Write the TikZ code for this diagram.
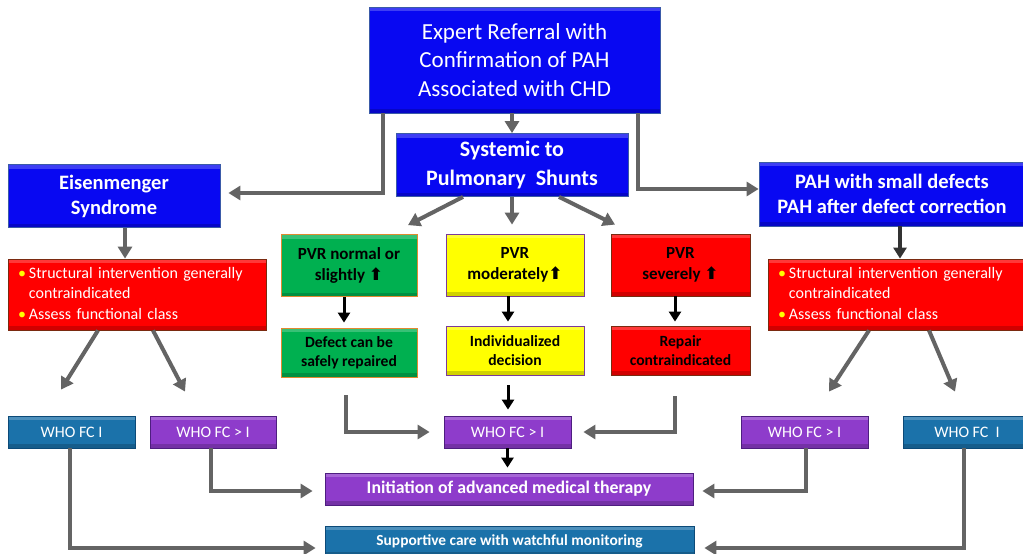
\documentclass[tikz,border=0pt]{standalone}
\usepackage{fontspec}
\setmainfont{Carlito}
\newfontfamily\symfont{DejaVu Sans}
\usetikzlibrary{arrows.meta,calc}
\definecolor{bxblue}{HTML}{0808F2}
\definecolor{bxblueD}{HTML}{3A5AA8}
\definecolor{bxgreen}{HTML}{00B050}
\definecolor{bxgreenD}{HTML}{E08A30}
\definecolor{bxyellow}{HTML}{FFFF00}
\definecolor{bxyellowD}{HTML}{7A3A9A}
\definecolor{bxred}{HTML}{FF0000}
\definecolor{bxredD}{HTML}{7A2A10}
\definecolor{bxpurple}{HTML}{8E3CCB}
\definecolor{bxpurpleD}{HTML}{4E1E80}
\definecolor{bxteal}{HTML}{1B72AA}
\definecolor{bxtealD}{HTML}{0C4A78}
\definecolor{arrgray}{HTML}{646464}
\definecolor{bullety}{HTML}{FFFF00}
\newcommand{\uparr}{{\symfont\fontsize{17}{17}\selectfont ⬆}}
\begin{document}
\begin{tikzpicture}[x=1pt,y=-1pt,
  box/.style={draw, line width=0.8pt, inner sep=0pt, align=center, anchor=center,
    path picture={
      \fill[white,opacity=0.22] (path picture bounding box.north west) rectangle ([yshift=-4pt]path picture bounding box.north east);
      \fill[black,opacity=0.18] (path picture bounding box.south west) rectangle ([yshift=4pt]path picture bounding box.south east);
    }},
  bluebox/.style={box, fill=bxblue, draw=bxblueD, text=white},
  pvrfont/.style={font=\fontsize{17}{21}\selectfont\bfseries},
  lowfont/.style={font=\fontsize{15.6}{19}\selectfont\bfseries},
  greenbox/.style={box, fill=bxgreen, draw=bxgreenD, text=black},
  yellowbox/.style={box, fill=bxyellow, draw=bxyellowD, text=black},
  redbox/.style={box, fill=bxred, draw=bxredD, text=black},
  bulletbox/.style={box, fill=bxred, draw=bxredD, text=white, align=left, font=\fontsize{16}{20.5}\selectfont},
  purplebox/.style={box, fill=bxpurple, draw=bxpurpleD, text=white},
  tealbox/.style={box, fill=bxteal, draw=bxtealD, text=white},
  whofont/.style={font=\fontsize{16}{18}\selectfont},
  garrow/.style={draw=arrgray, line width=4pt, -{Triangle[length=12pt,width=14pt]}},
  darrow/.style={draw=black!80, line width=3.5pt, -{Triangle[length=11pt,width=13pt]}},
  barrow/.style={draw=black, line width=3pt, -{Triangle[length=10pt,width=12pt]}}
]
\fill[white] (0,0) rectangle (1023,554);
\useasboundingbox (0,0) rectangle (1023,554);

% top row
\node[bluebox, minimum width=291pt, minimum height=106pt, font=\fontsize{23}{28.5}\selectfont] (expert) at (514.5,60)
  {Expert Referral with\\Confirmation of PAH\\Associated with CHD};
\node[bluebox, minimum width=232pt, minimum height=63pt, font=\fontsize{22}{29}\selectfont\bfseries] (sys) at (512,165)
  {Systemic to\\Pulmonary\ \ Shunts};
\node[bluebox, minimum width=212pt, minimum height=63pt, font=\fontsize{20.5}{25}\selectfont\bfseries] (eis) at (114,196)
  {Eisenmenger\\Syndrome};
\node[bluebox, minimum width=266pt, minimum height=64pt, font=\fontsize{20.5}{25}\selectfont\bfseries] (pah) at (892,194)
  {PAH with small defects\\PAH after defect correction};

% PVR row
\node[greenbox, pvrfont, minimum width=136pt, minimum height=62pt] (g1) at (349,265.5) {PVR normal or\\slightly \uparr};
\node[yellowbox, pvrfont, minimum width=138pt, minimum height=62pt] (y1) at (515,265) {PVR\\moderately\uparr};
\node[redbox, pvrfont, minimum width=139pt, minimum height=62pt] (r1) at (680.5,265) {PVR\\severely \uparr};

\node[greenbox, lowfont, minimum width=136pt, minimum height=49pt] (g2) at (349,352.5) {Defect can be\\safely repaired};
\node[yellowbox, lowfont, minimum width=138pt, minimum height=49pt] (y2) at (515,350.5) {Individualized\\decision};
\node[redbox, lowfont, minimum width=139pt, minimum height=49pt] (r2) at (680.5,350.5) {Repair\\contraindicated};

% bullet boxes
\node[bulletbox, minimum width=258pt, minimum height=71pt, text width=238pt] (lred) at (137,294.5)
  {\begin{tabular}{@{}l@{\hspace{3pt}}l@{}}
   \textcolor{bullety}{•} & Structural intervention generally\\
   & contraindicated\\
   \textcolor{bullety}{•} & Assess functional class
   \end{tabular}};
\node[bulletbox, minimum width=262pt, minimum height=71pt, text width=242pt] (rred) at (899,294.5)
  {\begin{tabular}{@{}l@{\hspace{3pt}}l@{}}
   \textcolor{bullety}{•} & Structural intervention generally\\
   & contraindicated\\
   \textcolor{bullety}{•} & Assess functional class
   \end{tabular}};

% WHO row
\node[tealbox, whofont, minimum width=127pt, minimum height=32pt] (whoL1) at (71.5,432) {WHO FC I};
\node[purplebox, whofont, minimum width=126pt, minimum height=32pt] (whoL2) at (213,432) {WHO FC > I};
\node[purplebox, whofont, minimum width=127pt, minimum height=32pt] (whoC) at (507.5,432) {WHO FC > I};
\node[purplebox, whofont, minimum width=127pt, minimum height=32pt] (whoR2) at (804.5,432) {WHO FC > I};
\node[tealbox, whofont, minimum width=127pt, minimum height=32pt] (whoR1) at (967,432) {WHO FC\ \ I};

% bottom
\node[purplebox, minimum width=368pt, minimum height=32pt, font=\fontsize{17.8}{20}\selectfont\bfseries] (init) at (509,489)
  {Initiation of advanced medical therapy};
\node[tealbox, minimum width=369pt, minimum height=30pt, font=\fontsize{15.4}{18}\selectfont\bfseries] (supp) at (509.5,541)
  {Supportive care with watchful monitoring};

% arrows from top
\draw[garrow] (expert.south -| sys.north) -- (sys.north);
\draw[garrow, shorten >=8pt] ([xshift=14pt]expert.south west) |- ([yshift=3pt]eis.east);
\draw[garrow] ([xshift=-22pt]expert.south east) |- ([yshift=5pt]pah.west);

\draw[garrow] ([xshift=-49pt]sys.south) -- ([xshift=59pt,yshift=9pt]g1.north);
\draw[garrow, shorten >=9pt] (sys.south) -- (sys.south |- y1.north);
\draw[garrow] ([xshift=47pt]sys.south) -- ([xshift=-65.5pt,yshift=9pt]r1.north);

\draw[garrow] ([xshift=11pt]eis.south) -- ([xshift=-12pt]lred.north);
\draw[darrow] ([xshift=8pt]pah.south) -- ([xshift=8pt]pah.south |- rred.north);

% black arrows in PVR columns
\draw[barrow, shorten >=5pt] ([xshift=-5pt]g1.south) -- ([xshift=-5pt]g1.south |- g2.north);
\draw[barrow, shorten >=4pt] ([xshift=-7pt]y1.south) -- ([xshift=-7pt]y1.south |- y2.north);
\draw[barrow, shorten >=4pt] ([xshift=-5.5pt]r1.south) -- ([xshift=-5.5pt]r1.south |- r2.north);

% bullet boxes to WHO
\draw[garrow] ([xshift=-39pt]lred.south) -- ([xshift=-10.5pt,yshift=26pt]whoL1.north);
\draw[garrow] ([xshift=16pt]lred.south) -- ([xshift=-28pt,yshift=24pt]whoL2.north);
\draw[garrow] ([xshift=-30pt]rred.south) -- ([xshift=24.5pt,yshift=24pt]whoR2.north);
\draw[garrow] ([xshift=30pt]rred.south) -- ([xshift=-12pt,yshift=24pt]whoR1.north);

% into center WHO
\draw[garrow, shorten >=14pt] ([xshift=-3pt,yshift=-18pt]g2.south) |- (whoC.west);
\draw[garrow, shorten >=12pt] ([xshift=-5.5pt,yshift=-21pt]r2.south) |- (whoC.east);
\draw[barrow, shorten >=6pt] ([xshift=-7pt,yshift=-10pt]y2.south) -- ([xshift=-7pt]y2.south |- whoC.north);
\draw[barrow, shorten >=5pt] (whoC.south) -- (whoC.south |- init.north);

% WHO to bottom boxes
\draw[garrow, shorten >=12pt] ([xshift=-2pt]whoL2.south) |- ([yshift=-2pt]init.west);
\draw[garrow, shorten >=9pt] ([xshift=-1.5pt]whoL1.south) |- ([yshift=-7pt]supp.west);
\draw[garrow, shorten >=9pt] ([xshift=1.5pt]whoR2.south) |- ([yshift=-2pt]init.east);
\draw[garrow, shorten >=10pt] ([xshift=-3pt]whoR1.south) |- ([yshift=-7pt]supp.east);
\end{tikzpicture}
\end{document}
